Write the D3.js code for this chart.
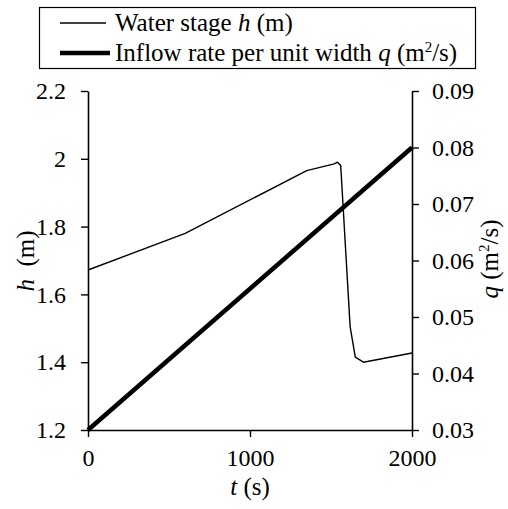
<!DOCTYPE html>
<html>
<head>
<meta charset="utf-8">
<script src="https://cdn.jsdelivr.net/npm/d3@7"></script>
<style>
  body { margin: 0; background: #fff; }
</style>
</head>
<body>
<svg id="chart" width="508" height="509"></svg>
<script>
// water stage h (m) against time t (s)
const stageTime = [0, 600, 1350, 1520, 1540, 1560, 1618, 1650, 1700, 2000];
const stageH = [1.672, 1.78, 1.965, 1.985, 1.99, 1.98, 1.505, 1.415, 1.40, 1.427];

// inflow rate per unit width q (m2/s)
const inflowTime = [0, 2000];
const inflowQ = [0.03, 0.08];

const tTicks = [0, 1000, 2000];
const hTicks = [1.2, 1.4, 1.6, 1.8, 2, 2.2];
const qTicks = [0.03, 0.04, 0.05, 0.06, 0.07, 0.08, 0.09];

const svg = d3.select("#chart");
const plotLeft = 88, plotRight = 412, plotTop = 91, plotBottom = 430;

const x = d3.scaleLinear().domain([0, 2000]).range([plotLeft, plotRight]);
const yH = d3.scaleLinear().domain([1.2, 2.2]).range([plotBottom, plotTop]);
const yQ = d3.scaleLinear().domain([0.03, 0.09]).range([plotBottom, plotTop]);

// axes
const styleAxis = (g) => {
  g.attr("font-size", 24);
  g.select(".domain").attr("stroke", "#000").attr("stroke-width", 1.6);
  g.selectAll(".tick line").attr("stroke", "#000").attr("stroke-width", 1.4);
  g.selectAll(".tick text").attr("fill", "#000");
};

svg.append("g")
  .attr("transform", `translate(0,${plotBottom})`)
  .call(d3.axisBottom(x).tickValues(tTicks).tickFormat(d3.format("d")).tickSize(7).tickPadding(12).tickSizeOuter(0))
  .call(styleAxis);

svg.append("g")
  .attr("transform", `translate(${plotLeft},0)`)
  .call(d3.axisLeft(yH).tickValues(hTicks).tickFormat(d3.format("")).tickSize(7).tickPadding(15).tickSizeOuter(0))
  .call(styleAxis);

svg.append("g")
  .attr("transform", `translate(${plotRight},0)`)
  .call(d3.axisRight(yQ).tickValues(qTicks).tickFormat(d3.format(".2f")).tickSize(7).tickPadding(13).tickSizeOuter(0))
  .call(styleAxis);

// lines
const stageLine = d3.line()
  .x((d, i) => x(stageTime[i]))
  .y((d) => yH(d));

svg.append("path")
  .datum(stageH)
  .attr("d", stageLine)
  .attr("fill", "none")
  .attr("stroke", "#000")
  .attr("stroke-width", 1.4)
  .attr("stroke-linejoin", "round");

const inflowLine = d3.line()
  .x((d, i) => x(inflowTime[i]))
  .y((d) => yQ(d));

svg.append("path")
  .datum(inflowQ)
  .attr("d", inflowLine)
  .attr("fill", "none")
  .attr("stroke", "#000")
  .attr("stroke-width", 4.5);

// axis titles
const tTitle = svg.append("text")
  .attr("x", (plotLeft + plotRight) / 2)
  .attr("y", 495)
  .attr("text-anchor", "middle")
  .attr("font-size", 25);
tTitle.append("tspan").attr("font-style", "italic").text("t");
tTitle.append("tspan").text(" (s)");

const hTitle = svg.append("text")
  .attr("transform", "translate(34,261) rotate(-90)")
  .attr("text-anchor", "middle")
  .attr("font-size", 25);
hTitle.append("tspan").attr("font-style", "italic").text("h");
hTitle.append("tspan").text("\u2002(m)");

const qTitle = svg.append("text")
  .attr("transform", "translate(498,259) rotate(-90)")
  .attr("text-anchor", "middle")
  .attr("font-size", 25);
qTitle.append("tspan").attr("font-style", "italic").text("q");
qTitle.append("tspan").text(" (m");
qTitle.append("tspan").attr("font-size", 15).attr("dy", -9).text("2");
qTitle.append("tspan").attr("dy", 9).text("/s)");

// legend
const legend = svg.append("g");
legend.append("rect")
  .attr("x", 39.5).attr("y", 7.5)
  .attr("width", 436).attr("height", 61)
  .attr("fill", "#fff")
  .attr("stroke", "#000")
  .attr("stroke-width", 1.2);

legend.append("line")
  .attr("x1", 60).attr("x2", 106).attr("y1", 23).attr("y2", 23)
  .attr("stroke", "#000").attr("stroke-width", 1.4);
legend.append("line")
  .attr("x1", 60).attr("x2", 110).attr("y1", 53).attr("y2", 53)
  .attr("stroke", "#000").attr("stroke-width", 4.5);

const leg1 = legend.append("text").attr("x", 115).attr("y", 31).attr("font-size", 25);
leg1.append("tspan").text("Water stage ");
leg1.append("tspan").attr("font-style", "italic").text("h");
leg1.append("tspan").text(" (m)");

const leg2 = legend.append("text").attr("x", 115).attr("y", 61).attr("font-size", 25);
leg2.append("tspan").text("Inflow rate per unit width ");
leg2.append("tspan").attr("font-style", "italic").text("q");
leg2.append("tspan").text(" (m");
leg2.append("tspan").attr("font-size", 15).attr("dy", -9).text("2");
leg2.append("tspan").attr("dy", 9).text("/s)");

// every text in the serif face
svg.selectAll("text").style("font-family", "'Liberation Serif'").attr("fill", "#000");
</script>
</body>
</html>
